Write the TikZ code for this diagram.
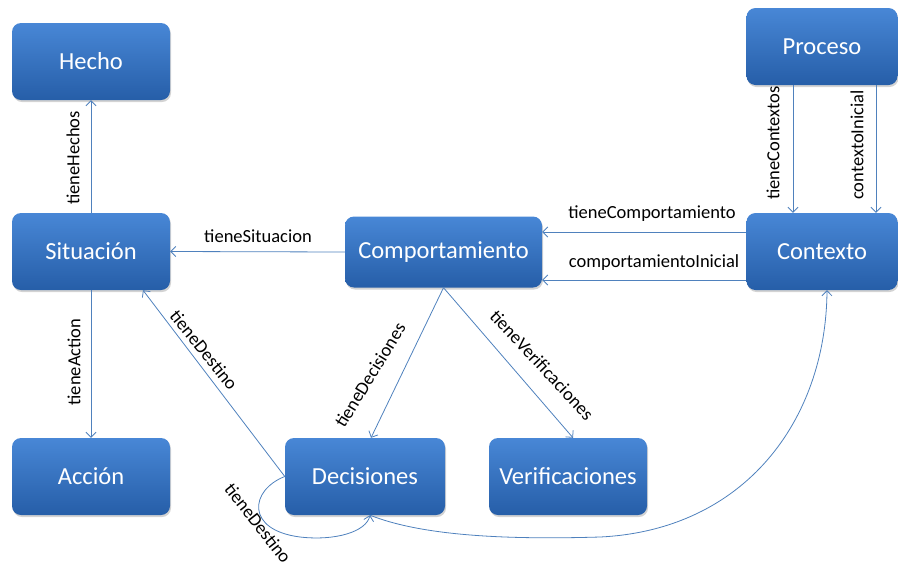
\documentclass[tikz,border=0pt]{standalone}
\usepackage{fontspec}
\setmainfont{Carlito}
\usetikzlibrary{arrows.meta,shadows,calc}
\definecolor{lineblue}{RGB}{79,129,189}
\definecolor{boxtop}{RGB}{72,135,214}
\definecolor{boxbot}{RGB}{38,94,168}
\begin{document}
\begin{tikzpicture}[x=1pt,y=-1pt,
  box/.style={draw=none, rounded corners=9pt, top color=boxtop, bottom color=boxbot,
    text=white, font=\fontsize{24.5}{28}\selectfont, minimum width=158pt, minimum height=77pt,
    inner sep=0pt, drop shadow={opacity=0.35, shadow xshift=1pt, shadow yshift=-2pt}},
  rel/.style={draw=lineblue, line width=0.8pt, -{Straight Barb[length=5pt,width=10pt]}},
  lbl/.style={font=\fontsize{18.5}{21}\selectfont, text=black, inner sep=0pt}]
\useasboundingbox (0,0) rectangle (898,566);
% boxes
\node[box] (hecho) at (91,61.5) {Hecho};
\node[box] (sit) at (91,251.5) {Situación};
\node[box] (accion) at (91,476.5) {Acción};
\node[box, minimum width=197pt, minimum height=71pt] (comp) at (443.5,252) {Comportamiento};
\node[box, minimum width=151pt] (proceso) at (822,46.5) {Proceso};
\node[box, minimum width=151pt] (contexto) at (822,251.5) {Contexto};
\node[box, minimum width=160pt] (dec) at (365,476.5) {Decisiones};
\node[box] (ver) at (568,476.5) {Verificaciones};
% helper coordinates
\coordinate (yA) at (0,232);
\coordinate (yB) at (0,280);
\coordinate (xA) at (793,0);
\coordinate (xB) at (876,0);
\coordinate (xD) at (371,0);
\coordinate (xV) at (573,0);
\coordinate (xS) at (143,0);
\coordinate (xL) at (370,0);
\coordinate (xC) at (827,0);
% connectors
\draw[rel] (sit.north) -- (hecho.south);
\draw[rel] (sit.south) -- (accion.north);
\draw[rel] (comp.west) -- (sit.east);
\draw[rel] (contexto.west |- yA) -- (comp.east |- yA);
\draw[rel] (contexto.west |- yB) -- (comp.east |- yB);
\draw[rel] (proceso.south -| xA) -- (contexto.north -| xA);
\draw[rel] (proceso.south -| xB) -- (contexto.north -| xB);
\draw[rel] (comp.south) -- (dec.north -| xD);
\draw[rel] (comp.south) -- (ver.north -| xV);
\draw[rel] (dec.west) -- (sit.south -| xS);
\draw[rel] (dec.west) .. controls (250,490) and (245,530) .. (300,537)
  .. controls (335,541) and (366,532) .. (dec.south -| xL);
\draw[rel] (dec.south -| xL) .. controls (420,535) and (500,540) .. (600,537)
  .. controls (745,530) and (826,420) .. (contexto.south -| xC);
% labels
\node[lbl, rotate=90] (lHechos) at (73,158) {tieneHechos};
\node[lbl, rotate=90] (lAction) at (74,362) {tieneAction};
\node[lbl] (lSit) at (258,236) {tieneSituacion};
\node[lbl] (lComp) at (652,214) {tieneComportamiento};
\node[lbl] (lCompIni) at (654,263) {comportamientoInicial};
\node[lbl, rotate=90] (lCtx) at (773,143) {tieneContextos};
\node[lbl, rotate=90] (lCtxIni) at (857,145) {contextoInicial};
\node[lbl, rotate=58.5] (lDec) at (370,375) {tieneDecisiones};
\node[lbl, rotate=-47] (lVer) at (542,365) {tieneVerificaciones};
\node[lbl, rotate=-51] (lDest1) at (204,350) {tieneDestino};
\node[lbl, rotate=-52] (lDest2) at (258,523) {tieneDestino};
\end{tikzpicture}
\end{document}
